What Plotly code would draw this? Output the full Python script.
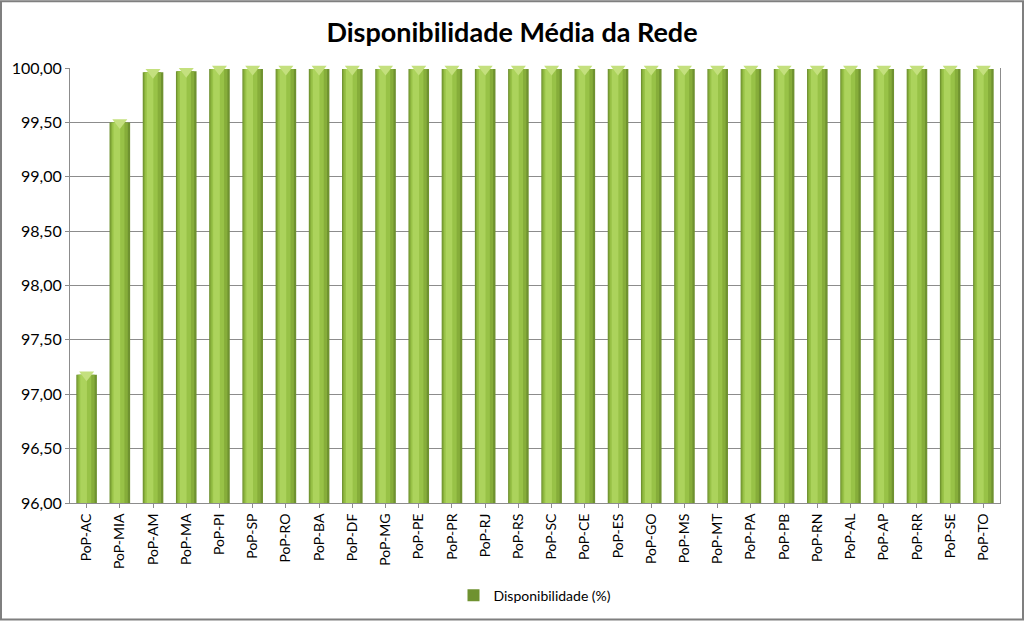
import plotly.graph_objects as go

categories = ["PoP-AC", "PoP-MIA", "PoP-AM", "PoP-MA", "PoP-PI", "PoP-SP", "PoP-RO", "PoP-BA",
              "PoP-DF", "PoP-MG", "PoP-PE", "PoP-PR", "PoP-RJ", "PoP-RS", "PoP-SC", "PoP-CE",
              "PoP-ES", "PoP-GO", "PoP-MS", "PoP-MT", "PoP-PA", "PoP-PB", "PoP-RN", "PoP-AL",
              "PoP-AP", "PoP-RR", "PoP-SE", "PoP-TO"]
disponibilidade = [97.18, 99.50, 99.96, 99.97, 99.99, 99.99, 99.99, 99.99,
                   99.99, 99.99, 99.99, 99.99, 99.99, 99.99, 99.99, 99.99,
                   99.99, 99.99, 99.99, 99.99, 99.99, 99.99, 99.99, 99.99,
                   99.99, 99.99, 99.99, 99.99]
y_ticks = [96.0, 96.5, 97.0, 97.5, 98.0, 98.5, 99.0, 99.5, 100.0]
y_labels = ["96,00", "96,50", "97,00", "97,50", "98,00", "98,50", "99,00", "99,50", "100,00"]

W, H = 1024, 623
L, R, T, B = 70, 24, 68, 118

fig = go.Figure()
# cylinder-like shading: layered bars of decreasing width
layers = [
    (0.62, 0.0, "#6f9230", True),
    (0.52, -0.02, "#86ad3a", False),
    (0.38, -0.05, "#98c247", False),
    (0.20, -0.09, "#acd35c", False),
]
for w, off, col, show in layers:
    fig.add_trace(go.Bar(
        x=categories, y=disponibilidade, width=w, offset=-w / 2 + off,
        marker=dict(color=col, line=dict(width=0)),
        name="Disponibilidade (%)", showlegend=show, legendgroup="d",
        hoverinfo="skip" if not show else None,
    ))
# top caps
fig.add_trace(go.Scatter(
    x=categories, y=disponibilidade, mode="markers",
    marker=dict(symbol="triangle-down", size=13, color="#c4e07e", line=dict(width=0)),
    showlegend=False, hoverinfo="skip", cliponaxis=False,
))

fig.update_layout(
    width=W, height=H,
    barmode="overlay",
    paper_bgcolor="white", plot_bgcolor="white",
    margin=dict(l=L, r=R, t=T, b=B),
    font=dict(family="Lato, 'Open Sans', sans-serif", size=14, color="#000000"),
    title=dict(text="<b>Disponibilidade Média da Rede</b>", x=0.5, xanchor="center",
               y=1 - 33 / H, yanchor="middle", font=dict(size=27, family="Lato, sans-serif")),
    legend=dict(orientation="h", x=0.5, xanchor="center", y=-(598 - (H - B)) / (H - T - B),
                yanchor="middle", font=dict(size=14), traceorder="normal"),
    showlegend=True,
)
fig.update_xaxes(
    type="category", range=[-0.5, len(categories) - 0.5], tickangle=-90, showline=True,
    linecolor="#8c8c8c", linewidth=1, mirror=False, ticks="outside", ticklen=4,
    tickcolor="#8c8c8c", showgrid=False, tickfont=dict(size=14),
)
fig.update_yaxes(
    range=[96, 100], tickvals=y_ticks, ticktext=y_labels, showgrid=True,
    gridcolor="#8c8c8c", gridwidth=1, showline=True, linecolor="#8c8c8c", linewidth=1,
    mirror=True, ticks="outside", ticklen=4, tickcolor="#8c8c8c", tickfont=dict(size=16),
    zeroline=False,
)
# outer border
pw, ph = W - L - R, H - T - B
fig.add_shape(type="rect", xref="paper", yref="paper",
              x0=-(L - 1) / pw, x1=1 + (R - 1) / pw, y0=-(B - 1) / ph, y1=1 + (T - 1) / ph,
              line=dict(color="#7f7f7f", width=2), fillcolor="rgba(0,0,0,0)", layer="above")

fig.write_html("out.html")
